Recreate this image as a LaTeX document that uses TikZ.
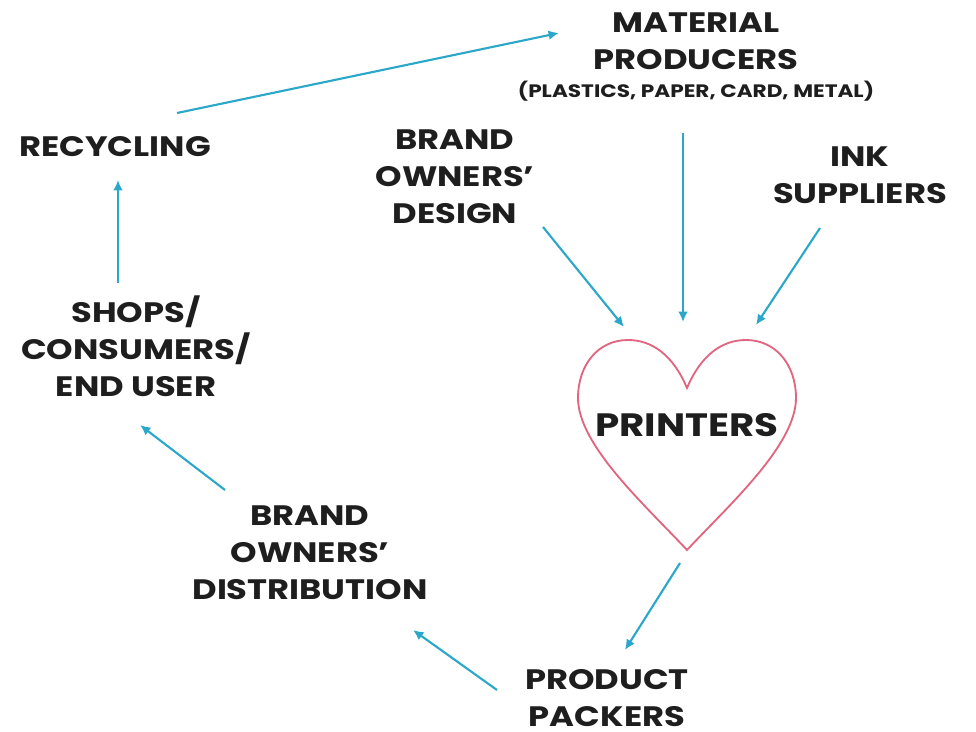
\documentclass[tikz,border=0pt]{standalone}
\usepackage{fontspec}
\setmainfont{Poppins}[FakeStretch=1.2]
\usepackage{tikz}
\usetikzlibrary{arrows.meta,calc}
\definecolor{flowcyan}{HTML}{2AA7C9}
\definecolor{heartpink}{HTML}{E2657F}
\definecolor{labelink}{HTML}{1E1E1E}
\tikzset{
  actor/.style={align=center, inner sep=0pt, text=labelink, font=\fontsize{20}{26.3}\selectfont\bfseries},
  bigactor/.style={actor, font=\fontsize{23}{28}\selectfont\bfseries},
  subnote/.style={inner sep=0pt, text=labelink, font=\fontsize{12.8}{14}\selectfont\bfseries},
  flow/.style={-{Latex[length=2.6mm,width=2.4mm]}, line width=1.5pt, draw=flowcyan},
  heartline/.style={draw=heartpink, line width=1.3pt}
}

\begin{document}
\begin{tikzpicture}[x=0.025cm, y=-0.025cm]
  \useasboundingbox (0,0) rectangle (976,732);

  \node[actor] (material) at (696,41) {MATERIAL\\PRODUCERS};
  \node[subnote] (materialsub) at (696,91) {(PLASTICS, PAPER, CARD, METAL)};
  \node[actor] (recycling) at (115,147) {RECYCLING};
  \node[actor] (design) at (455,177) {BRAND\\OWNERS'\\DESIGN};
  \node[actor] (ink) at (860,175) {INK\\SUPPLIERS};
  \node[actor] (shops) at (136,346) {SHOPS/\\CONSUMERS/\\END USER};
  \node[bigactor] (printers) at (687,425) {PRINTERS};
  \node[actor] (distribution) at (310,553) {BRAND\\OWNERS'\\DISTRIBUTION};
  \node[actor] (packers) at (607,698) {PRODUCT\\PACKERS};

  \draw[heartline] (687,388) .. controls (673,355) and (652,340) .. (628,340)
    .. controls (598,340) and (578,365) .. (578,398)
    .. controls (578,445) and (645,505) .. (687,550)
    .. controls (729,505) and (796,445) .. (796,398)
    .. controls (796,365) and (776,340) .. (746,340)
    .. controls (722,340) and (701,355) .. (687,388) -- cycle;

  \draw[flow] ($(recycling)+(62,-34)$) -- ($(material)+(-137,-8)$);
  \draw[flow] ($(shops)+(-18,-63)$) -- ($(recycling)+(3,33)$);
  \draw[flow] ($(design)+(88,50)$) -- ($(printers)+(-63,-98)$);
  \draw[flow] ($(material)+(-13,92)$) -- ($(printers)+(-4,-103)$);
  \draw[flow] ($(ink)+(-40,53)$) -- ($(printers)+(69,-100)$);
  \draw[flow] ($(printers)+(-7,138)$) -- ($(packers)+(18,-48)$);
  \draw[flow] ($(packers)+(-110,-8)$) -- ($(distribution)+(103,77)$);
  \draw[flow] ($(distribution)+(-85,-63)$) -- ($(shops)+(4,79)$);
\end{tikzpicture}
\end{document}
